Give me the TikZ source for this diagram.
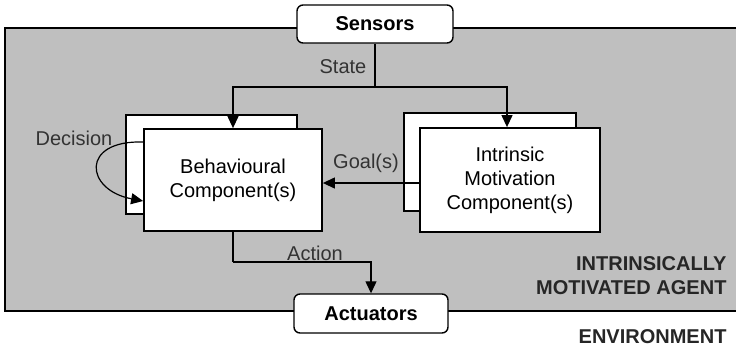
\documentclass[tikz,border=0pt]{standalone}
\usepackage{fontspec}
\setmainfont{Liberation Sans}
\usetikzlibrary{arrows.meta}
\tikzset{
  comp/.style={draw, fill=white, line width=1.8pt, inner sep=0pt},
  io/.style={draw, fill=white, line width=1.4pt, rounded corners=6pt, inner sep=0pt, font=\fontsize{20}{24}\selectfont\bfseries},
  lbl/.style={text=black!80},
  arr/.style={line width=1.2pt, -{Triangle[length=12pt,width=11pt]}}
}
\begin{document}
\begin{tikzpicture}[x=1pt, y=-1pt, font=\fontsize{20}{24}\selectfont]
\useasboundingbox (0,0) rectangle (736,349);
\filldraw[fill=black!25, line width=1.6pt] (5,28) rectangle (745,311);
\node[io, minimum width=156pt, minimum height=38pt] (sensors) at (375,24) {Sensors};
\node[io, minimum width=154pt, minimum height=39pt] (actuators) at (371,313.5) {Actuators};
\node[comp, line width=1.4pt, minimum width=171pt, minimum height=99pt] (bback) at (211.5,164.5) {};
\node[comp, minimum width=178pt, minimum height=102pt, align=center] (bfront) at (233,180) {Behavioural\\Component(s)};
\node[comp, line width=1.4pt, minimum width=172pt, minimum height=98pt] (iback) at (490,162) {};
\node[comp, minimum width=180pt, minimum height=104pt, align=center] (ifront) at (510,180) {Intrinsic\\Motivation\\Component(s)};
\coordinate (st) at (375,87);
\coordinate (ac) at (233,262);
\coordinate (g) at (0,183);
\coordinate (d1) at (0,142);
\coordinate (d2) at (0,201);
\draw[line width=1.2pt] (sensors.south) -- (st);
\draw[arr] (st) -| (bfront.north);
\draw[arr] (st) -| ([xshift=-3pt]ifront.north);
\draw[arr] (ifront.west |- g) -- (bfront.east |- g);
\draw[line width=1.2pt] (bfront.south) -- (ac);
\draw[arr] (ac) -| (actuators.north);
\draw[arr] (bfront.west |- d1) .. controls (80,140) and (85,190) .. (bfront.west |- d2);
\node[lbl] (state) at (343,67) {State};
\node[lbl] (goal) at (366,163) {Goal(s)};
\node[lbl] (action) at (315,253) {Action};
\node[lbl] (decision) at (74,138) {Decision};
\node[anchor=east, align=right, font=\fontsize{20}{24}\selectfont\bfseries, text=black!85] (agent) at (730,276) {INTRINSICALLY\\MOTIVATED AGENT};
\node[anchor=east, font=\fontsize{20}{24}\selectfont\bfseries, text=black!85] (env) at (730,337) {ENVIRONMENT};
\end{tikzpicture}
\end{document}
